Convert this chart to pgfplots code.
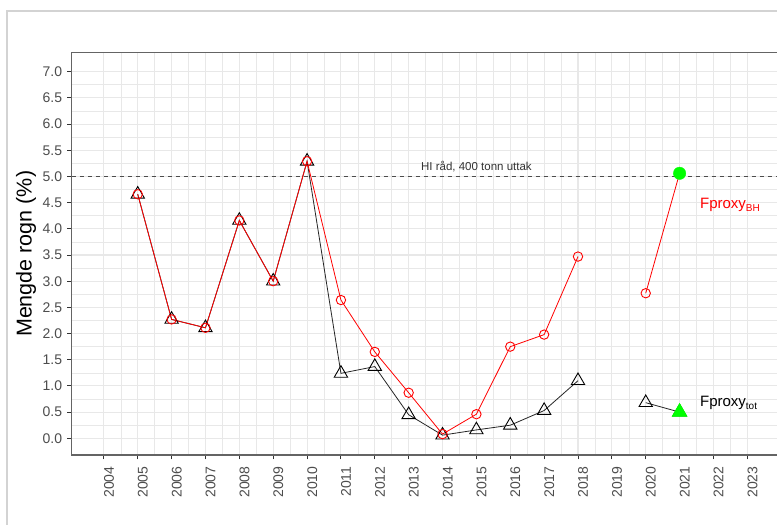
\documentclass[border=0pt]{standalone}
\usepackage{fontspec}
\setmainfont{Liberation Sans}
\usepackage{pgfplots}
\pgfplotsset{compat=1.18}
\definecolor{gridmaj}{RGB}{232,232,232}
\definecolor{tickcol}{RGB}{77,77,77}
\definecolor{framecol}{RGB}{100,100,100}
\definecolor{ggreen}{RGB}{0,255,0}
\definecolor{outercol}{RGB}{211,211,211}
\begin{document}
\begin{tikzpicture}
\useasboundingbox (-71.7pt,-70pt) rectangle (705.3pt,455pt);
\fill[white] (-71.7pt,-70pt) rectangle (705.3pt,455pt);
\draw[outercol, line width=1.2pt] (-64.7pt,-72pt) -- (-64.7pt,444pt) -- (708pt,444pt);
\begin{axis}[
  scale only axis, width=707.8pt, height=402.3pt,
  xmin=2003.05, xmax=2023.95, ymin=-0.319, ymax=7.363,
  xtick={2004,2005,2006,2007,2008,2009,2010,2011,2012,2013,2014,2015,2016,2017,2018,2019,2020,2021,2022,2023},
  xticklabels={2004,2005,2006,2007,2008,2009,2010,2011,2012,2013,2014,2015,2016,2017,2018,2019,2020,2021,2022,2023},
  ytick={0,0.5,1,1.5,2,2.5,3,3.5,4,4.5,5,5.5,6,6.5,7},
  yticklabels={0.0,0.5,1.0,1.5,2.0,2.5,3.0,3.5,4.0,4.5,5.0,5.5,6.0,6.5,7.0},
  minor x tick num=1, minor y tick num=1,
  grid=both,
  major grid style={gridmaj, line width=1.1pt},
  minor grid style={gridmaj, line width=0.6pt},
  axis line style={framecol, line width=1.2pt},
  tick align=outside, major tick length=4.4pt, minor tick length=0pt,
  tick style={black!80, line width=0.9pt},
  xtick pos=left, ytick pos=left,
  xticklabel style={rotate=90, anchor=north east, inner sep=0pt, font=\fontsize{14}{16}\selectfont, text=tickcol},
  yticklabel style={anchor=east, inner sep=0pt, font=\fontsize{14}{16}\selectfont, text=tickcol},
  xticklabel shift=7pt,
  yticklabel shift=5pt,
  ylabel={Mengde rogn (\%)},
  every axis y label/.style={at={(axis description cs:-0.0646,0.5)}, rotate=90, anchor=center, font=\fontsize{21.5}{24}\selectfont},
  clip=false,
]
\addplot[black!70, line width=0.9pt, dash pattern=on 4pt off 4pt] coordinates {(2003.05,5) (2023.95,5)};
\addplot[black!85, line width=0.8pt, mark=triangle, mark size=7.7pt, mark options={solid, line width=0.9pt, black}] coordinates {
(2005,4.66) (2006,2.27) (2007,2.11) (2008,4.16) (2009,3.00) (2010,5.29) (2011,1.24) (2012,1.37) (2013,0.45) (2014,0.06) (2015,0.16) (2016,0.25) (2017,0.53) (2018,1.10)};
\addplot[black!85, line width=0.8pt, mark=triangle, mark size=7.7pt, mark options={solid, line width=0.9pt, black}] coordinates {
(2020,0.68) (2021,0.50)};
\addplot[red, line width=0.8pt, mark=o, mark size=4.7pt, mark options={solid, line width=0.9pt, red}] coordinates {
(2005,4.66) (2006,2.27) (2007,2.11) (2008,4.16) (2009,3.00) (2010,5.29) (2011,2.64) (2012,1.65) (2013,0.87) (2014,0.08) (2015,0.46) (2016,1.75) (2017,1.98) (2018,3.47)};
\addplot[red, line width=0.8pt, mark=o, mark size=4.7pt, mark options={solid, line width=0.9pt, red}] coordinates {
(2020,2.77) (2021,5.06)};
\addplot[only marks, mark=*, mark size=6.2pt, color=ggreen] coordinates {(2021,5.06)};
\addplot[only marks, mark=triangle*, mark size=8.8pt, color=ggreen] coordinates {(2021,0.50)};
\node[anchor=base, inner sep=0pt, font=\fontsize{11.5}{13}\selectfont, text=black!80] at (axis cs:2015,5.11) {HI råd, 400 tonn uttak};
\node[anchor=base west, inner sep=0pt, text=red, font=\fontsize{15}{17}\selectfont] at (axis cs:2021.6,4.39) {Fproxy\raisebox{-3pt}{\fontsize{10}{11}\selectfont BH}};
\node[anchor=base west, inner sep=0pt, text=black, font=\fontsize{15}{17}\selectfont] at (axis cs:2021.6,0.60) {Fproxy\raisebox{-3pt}{\fontsize{10}{11}\selectfont tot}};
\end{axis}
\end{tikzpicture}
\end{document}
